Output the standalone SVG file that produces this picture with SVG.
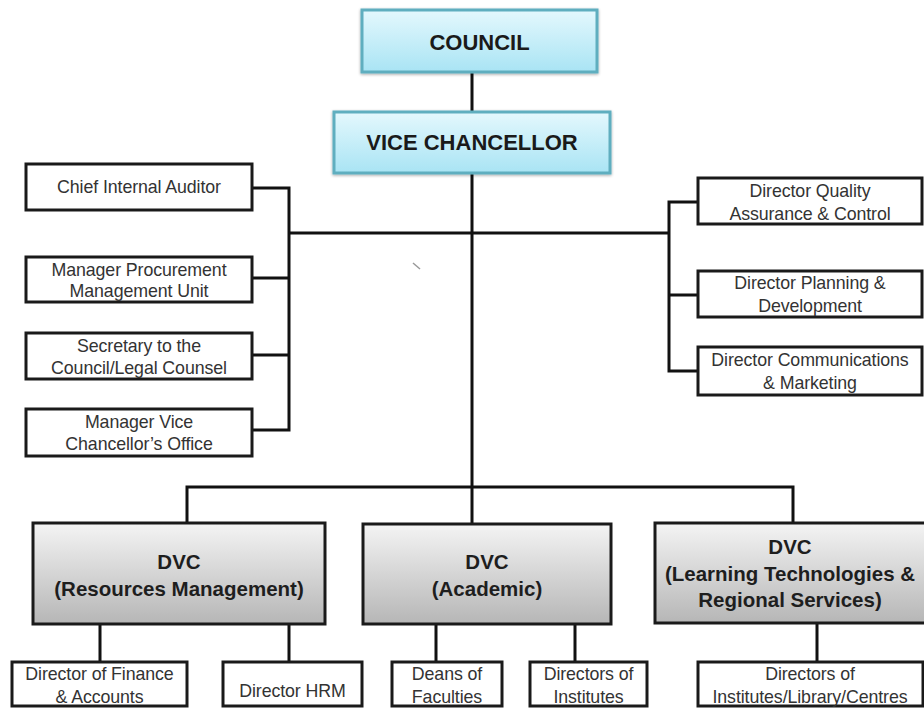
<svg xmlns="http://www.w3.org/2000/svg" width="924" height="708" viewBox="0 0 924 708">
<defs>
<linearGradient id="blue" x1="0" y1="0" x2="0" y2="1">
<stop offset="0" stop-color="#e4f8fd"/>
<stop offset="1" stop-color="#a9e4f4"/>
</linearGradient>
<linearGradient id="gray" x1="0" y1="0" x2="0" y2="1">
<stop offset="0" stop-color="#f4f4f4"/>
<stop offset="1" stop-color="#b6b6b6"/>
</linearGradient>
<filter id="sh" x="-10%" y="-20%" width="120%" height="140%">
<feGaussianBlur in="SourceAlpha" stdDeviation="1.5"/>
<feOffset dx="0" dy="1" result="b"/>
<feComponentTransfer><feFuncA type="linear" slope="0.35"/></feComponentTransfer>
<feMerge><feMergeNode/><feMergeNode in="SourceGraphic"/></feMerge>
</filter>
</defs>
<style>
.top{fill:url(#blue);stroke:#5eaebf;stroke-width:3;filter:url(#sh)}
.dvc{fill:url(#gray);stroke:#1a1a1a;stroke-width:3}
.box{fill:#fff;stroke:#1a1a1a;stroke-width:3}
.tt{font-family:"Liberation Sans",Arial,sans-serif;font-weight:bold;font-size:22px;fill:#1a1a1a;text-anchor:middle}
.dt{font-family:"Liberation Sans",Arial,sans-serif;font-weight:bold;font-size:20.5px;fill:#1e1e1e;text-anchor:middle}
.st{font-family:"Liberation Sans",Arial,sans-serif;font-size:17.8px;fill:#333;text-anchor:middle;letter-spacing:-0.1px}
.ln{fill:none;stroke:#111;stroke-width:3}
</style>
<rect width="924" height="708" fill="#fff"/>
<g id="connectors">
<path class="ln" d="M472 72V112M472 173V487"/>
<path class="ln" d="M289 233H669"/>
<path class="ln" d="M252 188H289V430H252M252 278H289M252 355H289"/>
<path class="ln" d="M698 202H669V371H698M669 295H698"/>
<path class="ln" d="M187 523V487H793V523M472 487V524"/>
<path class="ln" d="M100 624V662M289 624V662M436 624V662M575 624V662M817 623V662"/>
</g>
<line x1="413" y1="263" x2="420" y2="269" stroke="#999" stroke-width="1.5"/>
<g id="council"><rect class="top" x="362" y="10" width="235" height="62"/><text class="tt" x="479.5" y="50">COUNCIL</text></g>
<g id="vc"><rect class="top" x="334" y="112" width="276" height="61"/><text class="tt" x="472" y="150">VICE CHANCELLOR</text></g>
<g id="chief-auditor"><rect class="box" x="26" y="164" width="226" height="46"/><text class="st" x="139" y="193">Chief Internal Auditor</text></g>
<g id="procurement"><rect class="box" x="26" y="257" width="226" height="45"/><text class="st" x="139" y="276">Manager Procurement</text><text class="st" x="139" y="297">Management Unit</text></g>
<g id="secretary"><rect class="box" x="26" y="333" width="226" height="46"/><text class="st" x="139" y="352">Secretary to the</text><text class="st" x="139" y="374">Council/Legal Counsel</text></g>
<g id="vc-office"><rect class="box" x="26" y="409" width="226" height="47"/><text class="st" x="139" y="428">Manager Vice</text><text class="st" x="139" y="450">Chancellor’s Office</text></g>
<g id="quality"><rect class="box" x="698" y="178" width="224" height="46"/><text class="st" x="810" y="197">Director Quality</text><text class="st" x="810" y="220">Assurance &amp; Control</text></g>
<g id="planning"><rect class="box" x="698" y="271" width="224" height="46"/><text class="st" x="810" y="289">Director Planning &amp;</text><text class="st" x="810" y="312">Development</text></g>
<g id="communications"><rect class="box" x="698" y="347" width="224" height="48"/><text class="st" x="810" y="366">Director Communications</text><text class="st" x="810" y="389">&amp; Marketing</text></g>
<g id="dvc-resources"><rect class="dvc" x="33" y="523" width="292" height="101"/><text class="dt" x="179" y="569">DVC</text><text class="dt" x="179" y="596">(Resources Management)</text></g>
<g id="dvc-academic"><rect class="dvc" x="363" y="524" width="248" height="100"/><text class="dt" x="487" y="569">DVC</text><text class="dt" x="487" y="596">(Academic)</text></g>
<g id="dvc-learning"><rect class="dvc" x="655" y="523" width="272" height="100"/><text class="dt" x="790" y="554">DVC</text><text class="dt" x="790" y="581">(Learning Technologies &amp;</text><text class="dt" x="790" y="607">Regional Services)</text></g>
<g id="finance"><rect class="box" x="12" y="662" width="175" height="44"/><text class="st" x="99.5" y="680">Director of Finance</text><text class="st" x="99.5" y="703">&amp; Accounts</text></g>
<g id="hrm"><rect class="box" x="223" y="662" width="139" height="44"/><text class="st" x="292.5" y="697">Director HRM</text></g>
<g id="deans"><rect class="box" x="392" y="662" width="110" height="44"/><text class="st" x="447" y="680">Deans of</text><text class="st" x="447" y="703">Faculties</text></g>
<g id="directors-institutes"><rect class="box" x="530" y="662" width="117" height="44"/><text class="st" x="588.5" y="680">Directors of</text><text class="st" x="588.5" y="703">Institutes</text></g>
<g id="directors-centres"><rect class="box" x="698" y="662" width="225" height="44"/><text class="st" x="810" y="680">Directors of</text><text class="st" x="810" y="703">Institutes/Library/Centres</text></g>
</svg>
